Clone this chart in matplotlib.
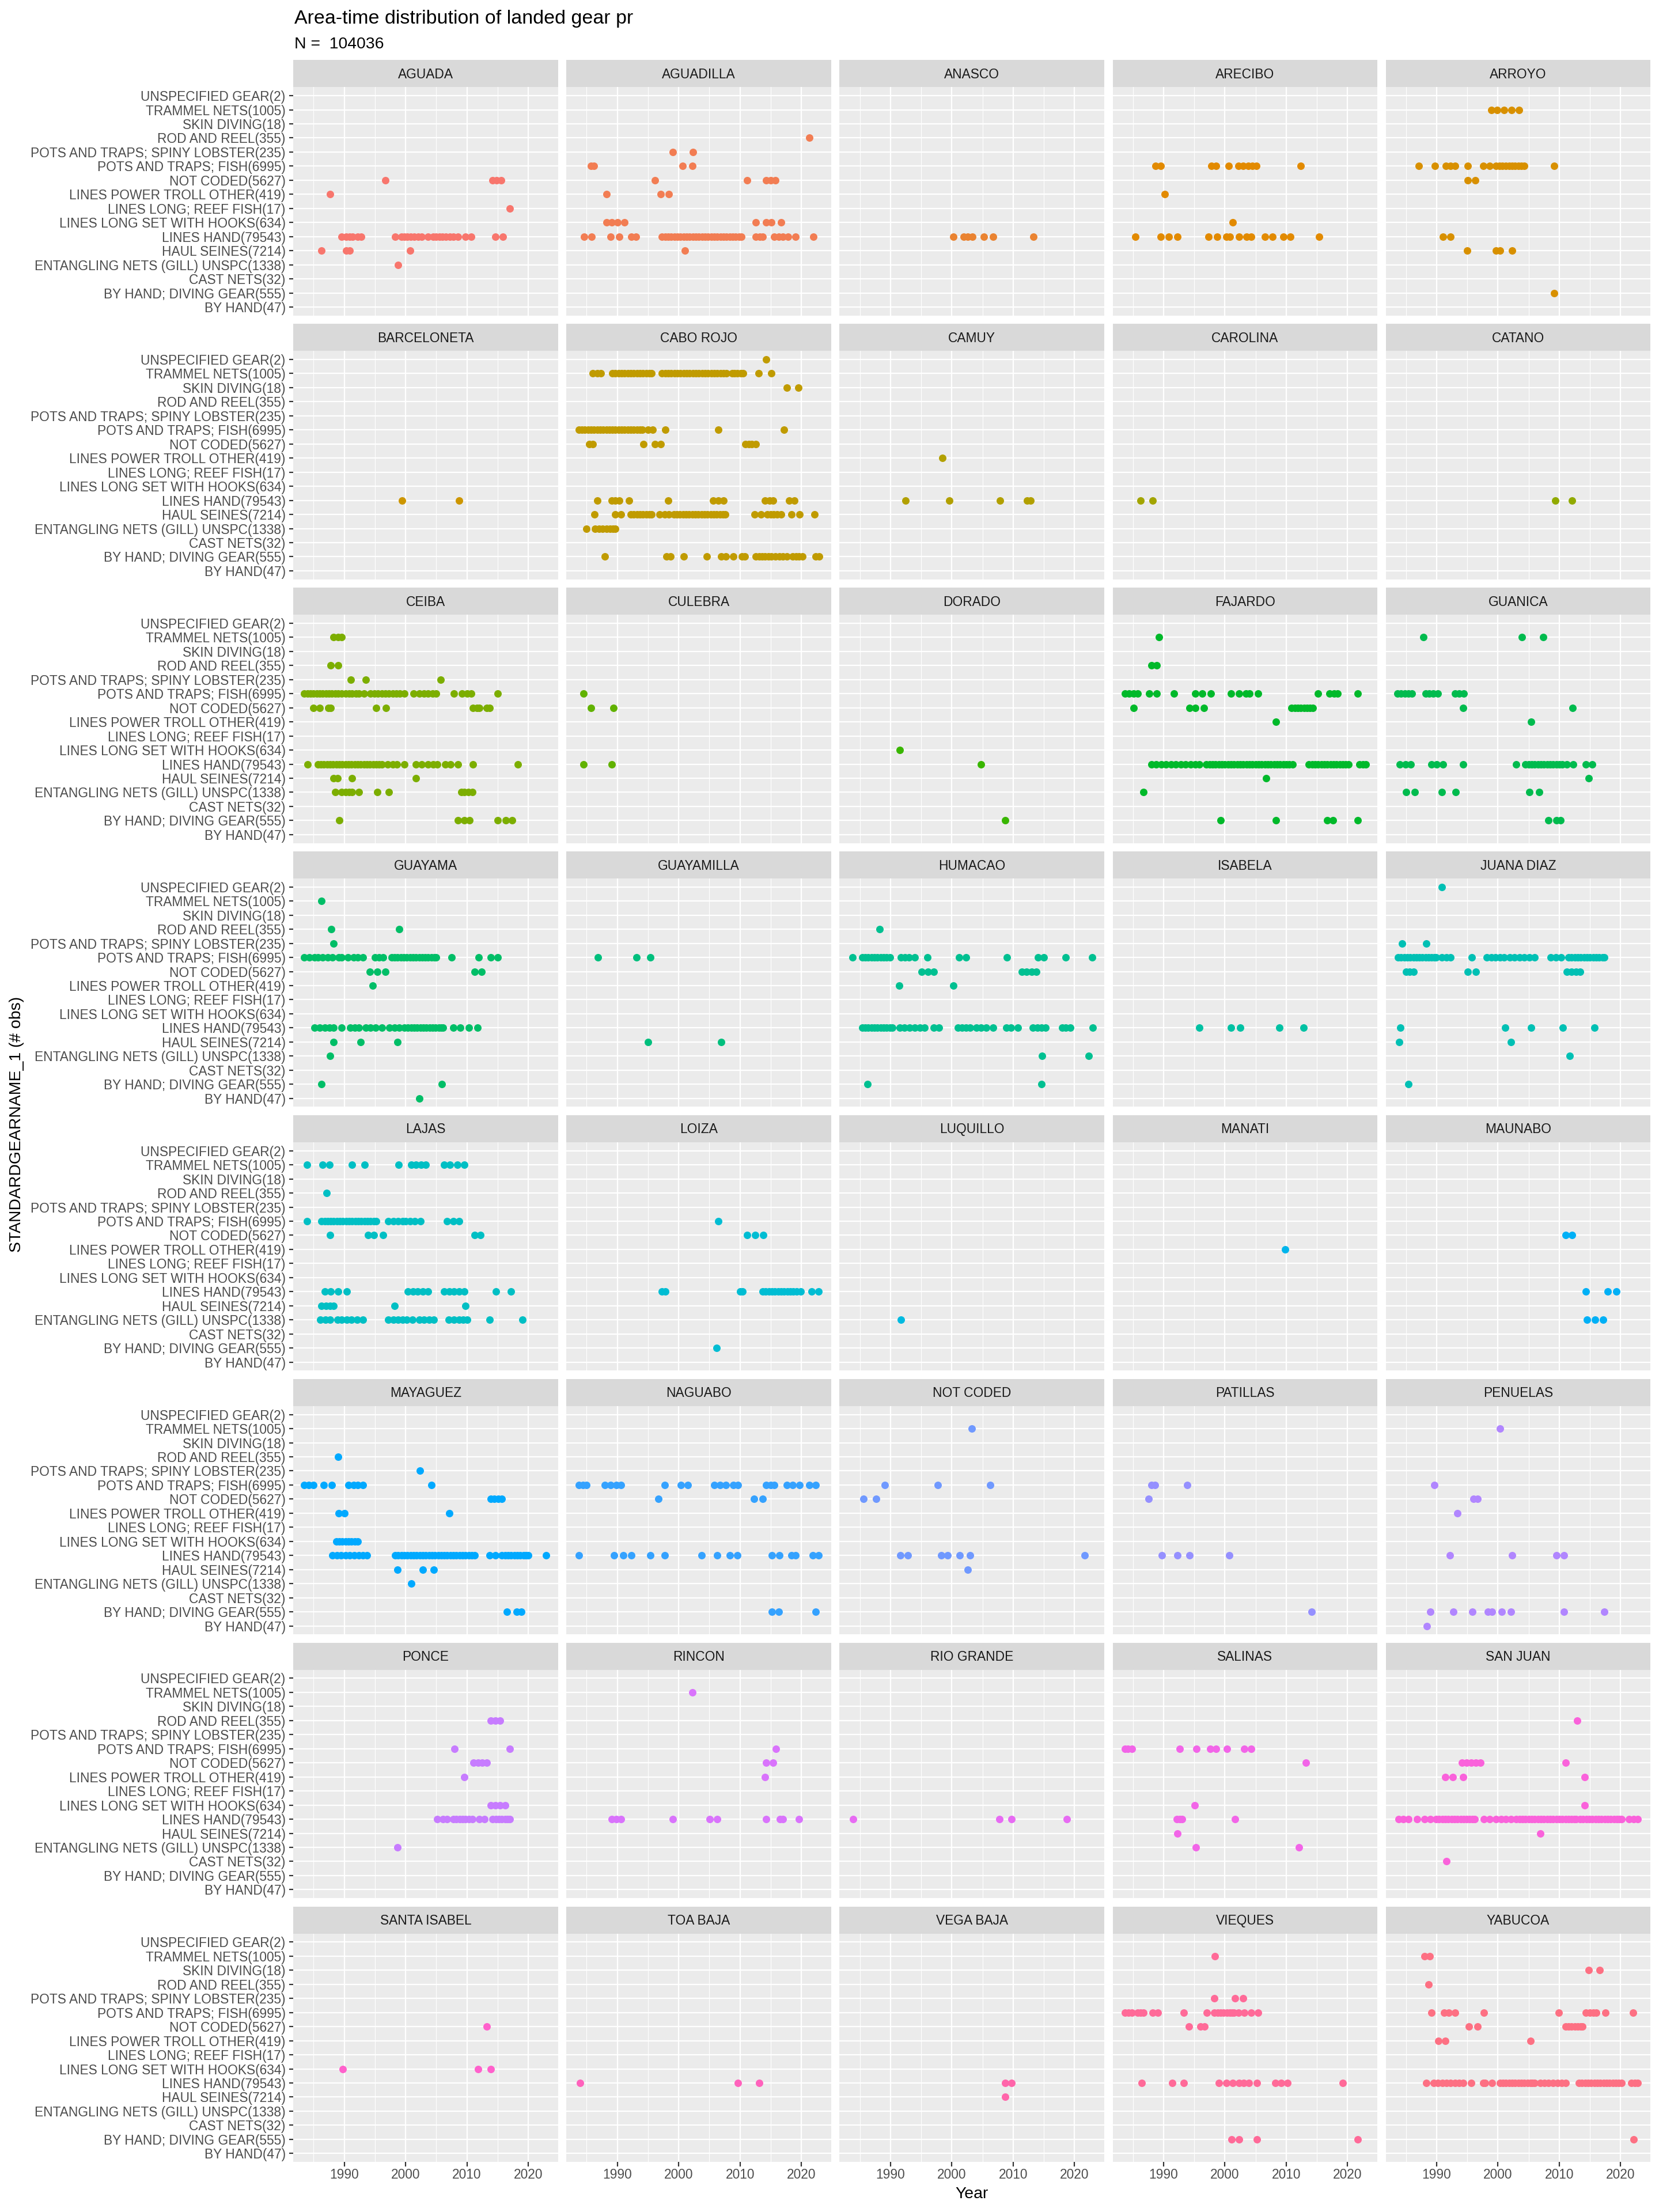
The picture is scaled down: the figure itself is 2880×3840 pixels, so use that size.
import numpy as np
import matplotlib
matplotlib.use("Agg")
import matplotlib.pyplot as plt

plt.rcParams['font.family'] = ['Liberation Sans', 'DejaVu Sans']

# ---------------- data ----------------
GEAR_CODES = ["BH", "BHD", "CN", "EN", "HS", "LH", "LLS", "LLR", "LPT", "NC",
              "PTF", "PSL", "ROD", "SKN", "TRM", "UNS"]
GEAR_LABELS = ["BY HAND(47)", "BY HAND; DIVING GEAR(555)", "CAST NETS(32)",
               "ENTANGLING NETS (GILL) UNSPC(1338)", "HAUL SEINES(7214)",
               "LINES HAND(79543)", "LINES LONG SET WITH HOOKS(634)",
               "LINES LONG; REEF FISH(17)", "LINES POWER TROLL OTHER(419)",
               "NOT CODED(5627)", "POTS AND TRAPS; FISH(6995)",
               "POTS AND TRAPS; SPINY LOBSTER(235)", "ROD AND REEL(355)",
               "SKIN DIVING(18)", "TRAMMEL NETS(1005)", "UNSPECIFIED GEAR(2)"]
X_TICKS = [1990, 2000, 2010, 2020]
X_MINOR = [1985, 1995, 2005, 2015]
TITLE = "Area-time distribution of landed gear pr"
SUBTITLE = "N =  104036"

AREAS = ["AGUADA", "AGUADILLA", "ANASCO", "ARECIBO", "ARROYO",
         "BARCELONETA", "CABO ROJO", "CAMUY", "CAROLINA", "CATANO",
         "CEIBA", "CULEBRA", "DORADO", "FAJARDO", "GUANICA",
         "GUAYAMA", "GUAYAMILLA", "HUMACAO", "ISABELA", "JUANA DIAZ",
         "LAJAS", "LOIZA", "LUQUILLO", "MANATI", "MAUNABO",
         "MAYAGUEZ", "NAGUABO", "NOT CODED", "PATILLAS", "PENUELAS",
         "PONCE", "RINCON", "RIO GRANDE", "SALINAS", "SAN JUAN",
         "SANTA ISABEL", "TOA BAJA", "VEGA BAJA", "VIEQUES", "YABUCOA"]

AGUADA = {
    "NC": [1996.7, 2014.2, 2014.8, 2015.6],
    "LPT": [1987.7],
    "LLR": [2017.0],
    "LH": [1989.6, 1990.3, 1990.9, 1991.4, 1992.2, 1992.8, 1998.3, 1999.3, 1999.8, 2000.3,
           2000.8, 2001.4, 2002.1, 2002.6, 2003.7, 2004.5, 2005.0, 2005.5, 2006.0, 2006.6,
           2007.2, 2007.8, 2008.5, 2009.8, 2010.7, 2014.6, 2015.9],
    "HS": [1986.3, 1990.3, 1990.9, 2000.7],
    "EN": [1998.8],
}
AGUADILLA = {
    "ROD": [2021.3],
    "PSL": [1999.0, 2002.3],
    "PTF": [1985.7, 1986.2, 2000.6, 2002.2],
    "NC": [1996.1, 2011.2, 2014.3, 2015.0, 2015.8],
    "LPT": [1988.2, 1997.1, 1998.4],
    "LLS": [1988.2, 1989.1, 1990.0, 1991.2, 2012.6, 2014.3, 2015.1, 2016.7],
    "LH": [1984.6, 1985.8, 1988.9, 1990.3, 1992.3, 1993.0, 1997.3, 1997.8, 1998.3, 1998.8,
           1999.3, 1999.8, 2000.3, 2000.8, 2001.3, 2001.8, 2002.3, 2002.8, 2003.3, 2003.8,
           2004.3, 2004.8, 2005.3, 2005.8, 2006.3, 2006.8, 2007.3, 2007.8, 2008.3, 2008.8,
           2009.3, 2009.8, 2010.2, 2012.6, 2013.2, 2013.7, 2015.6, 2016.3, 2017.0, 2017.8,
           2019.0, 2022.0],
    "HS": [2001.0],
}
ANASCO = {
    "LH": [2000.3, 2001.9, 2002.6, 2003.4, 2005.2, 2006.7, 2013.3],
}
ARECIBO = {
    "PTF": [1988.7, 1989.5, 1997.8, 1998.6, 2000.6, 2002.2, 2003.0, 2003.8, 2004.5, 2005.1, 2012.4],
    "LPT": [1990.2],
    "LLS": [2001.3],
    "LH": [1985.4, 1989.5, 1990.9, 1992.3, 1997.3, 1998.7, 2000.2, 2000.8, 2002.3, 2003.5,
           2004.3, 2006.5, 2007.8, 2009.5, 2010.7, 2015.4],
}
ARROYO = {
    "TRM": [1998.9, 1999.9, 2001.0, 2002.2, 2003.4],
    "PTF": [1987.1, 1989.7, 1991.5, 1992.3, 1993.0, 1995.1, 1997.6, 1998.6, 1999.7, 2000.2,
            2000.7, 2001.3, 2001.8, 2002.3, 2002.8, 2003.3, 2003.8, 2004.3, 2009.2],
    "NC": [1995.1, 1996.3],
    "LH": [1991.0, 1992.3],
    "HS": [1995.0, 1999.7, 2000.3, 2002.3],
    "BHD": [2009.2],
}
BARCELONETA = {
    "LH": [1999.4, 2008.7],
}
CABO_ROJO = {
    "UNS": [2014.3],
    "TRM": [1986.0, 1986.7, 1987.3, 1989.2, 1989.7, 1990.2, 1990.7, 1991.2, 1991.7, 1992.2,
            1992.7, 1993.2, 1993.7, 1994.2, 1994.7, 1995.2, 1995.6, 1997.3, 1997.8, 1998.3,
            1998.8, 1999.3, 1999.8, 2000.3, 2000.8, 2001.3, 2001.8, 2002.3, 2002.8, 2003.3,
            2003.8, 2004.3, 2004.8, 2005.3, 2005.8, 2006.3, 2006.8, 2007.3, 2007.8, 2008.7,
            2009.1, 2009.6, 2010.1, 2010.5, 2013.0, 2015.1],
    "SKN": [2017.6, 2019.5],
    "PTF": [1983.7, 1984.2, 1984.7, 1985.2, 1985.7, 1986.2, 1986.7, 1987.2, 1987.7, 1988.2,
            1988.7, 1989.2, 1989.7, 1990.2, 1990.7, 1991.2, 1991.7, 1992.2, 1992.7, 1993.2,
            1993.7, 1994.1, 1995.0, 1995.8, 1997.8, 2006.5, 2017.2],
    "NC": [1985.4, 1986.0, 1994.3, 1996.1, 1997.1, 2010.9, 2011.4, 2011.9, 2012.6],
    "LH": [1986.7, 1989.1, 1989.7, 1990.3, 1991.9, 1998.3, 2005.6, 2006.5, 2007.3, 2014.1,
           2014.8, 2015.4, 2018.0, 2018.9],
    "HS": [1986.3, 1989.7, 1990.6, 1992.2, 1992.7, 1993.2, 1993.7, 1994.2, 1994.7, 1995.2,
           1995.6, 1996.9, 1997.7, 1998.4, 1999.2, 1999.7, 2000.2, 2000.7, 2001.2, 2001.7,
           2002.2, 2002.7, 2003.2, 2003.7, 2004.2, 2004.7, 2005.2, 2005.7, 2006.2, 2006.7,
           2007.2, 2007.6, 2012.4, 2013.4, 2014.4, 2015.0, 2015.5, 2016.0, 2016.7, 2018.4,
           2019.7, 2022.1],
    "EN": [1985.0, 1986.4, 1987.0, 1987.6, 1988.2, 1988.8, 1989.3, 1989.7],
    "BHD": [1988.0, 1998.0, 1998.7, 2000.8, 2004.6, 2006.9, 2007.7, 2008.9, 2010.3, 2010.8,
            2012.6, 2013.1, 2013.6, 2014.1, 2014.6, 2015.1, 2015.8, 2016.4, 2017.0, 2017.6,
            2018.6, 2019.1, 2019.6, 2020.2, 2022.3, 2022.9],
}
CAMUY = {
    "LPT": [1998.5],
    "LH": [1992.5, 1999.6, 2007.9, 2012.3, 2012.8],
}
CAROLINA = {
    "LH": [1986.3, 1988.2],
}
CATANO = {
    "LH": [2009.3, 2012.1],
}
CEIBA = {
    "TRM": [1988.3, 1989.0, 1989.6],
    "ROD": [1987.8, 1989.0],
    "PSL": [1991.1, 1993.5, 2005.7],
    "PTF": [1983.5, 1984.0, 1984.5, 1985.0, 1985.5, 1986.0, 1986.5, 1987.0, 1987.5, 1988.0,
            1988.5, 1989.0, 1989.6, 1990.2, 1990.8, 1991.3, 1991.9, 1992.4, 1993.2, 1994.3,
            1994.9, 1995.5, 1996.1, 1996.7, 1997.3, 1997.9, 1998.5, 1999.1, 1999.8, 2001.3,
            2002.2, 2003.0, 2003.7, 2004.4, 2005.0, 2007.9, 2009.2, 2010.0, 2010.7, 2015.0],
    "NC": [1985.0, 1986.0, 1987.4, 1987.8, 1995.2, 1996.8, 2011.0, 2011.6, 2012.0, 2013.2, 2013.7],
    "LH": [1984.0, 1985.7, 1986.2, 1986.7, 1987.2, 1987.7, 1988.2, 1988.7, 1989.2, 1989.7,
           1990.2, 1990.7, 1991.2, 1991.7, 1992.2, 1992.7, 1993.2, 1993.7, 1994.2, 1994.7,
           1995.2, 1995.7, 1996.1, 1997.1, 1997.9, 1998.6, 1999.8, 2001.7, 2002.6, 2003.7,
           2004.5, 2005.2, 2006.5, 2007.3, 2008.5, 2011.0, 2018.3],
    "HS": [1988.3, 1988.9, 1991.3, 2001.7],
    "EN": [1988.5, 1989.6, 1990.2, 1990.8, 1991.3, 1992.4, 1995.4, 1997.3, 2009.1, 2009.6,
           2010.2, 2010.9],
    "BHD": [1989.2, 2008.5, 2009.6, 2010.4, 2015.0, 2016.3, 2017.4],
}
CULEBRA = {
    "PTF": [1984.5],
    "NC": [1985.7, 1989.4],
    "LH": [1984.5, 1989.1],
}
DORADO = {
    "LLS": [1991.5],
    "LH": [2004.8],
    "BHD": [2008.7],
}
FAJARDO = {
    "TRM": [1989.3],
    "ROD": [1988.0, 1988.9],
    "PTF": [1983.7, 1984.4, 1985.1, 1985.8, 1987.7, 1988.9, 1991.7, 1995.2, 1996.3, 1997.7,
            2001.0, 2002.3, 2003.4, 2004.0, 2005.4, 2015.2, 2017.1, 2017.8, 2018.4, 2021.7],
    "NC": [1985.1, 1994.2, 1995.2, 1996.6, 2010.9, 2011.4, 2011.9, 2012.4, 2012.9, 2013.4,
           2013.9, 2014.3],
    "LPT": [2008.3],
    "LH": [1988.0, 1988.8, 1989.6, 1990.4, 1991.2, 1992.0, 1992.8, 1993.6, 1994.4, 1995.2,
           1995.8, 1997.0, 1997.5, 1998.0, 1998.5, 1999.0, 1999.5, 2000.0, 2000.5, 2001.0,
           2001.5, 2002.0, 2002.5, 2003.0, 2003.5, 2004.0, 2004.5, 2005.0, 2005.5, 2006.0,
           2006.5, 2007.0, 2007.5, 2008.0, 2008.5, 2009.0, 2009.5, 2010.0, 2010.5, 2011.0,
           2013.7, 2014.2, 2014.7, 2015.2, 2015.7, 2016.2, 2016.7, 2017.2, 2017.7, 2018.2,
           2018.7, 2019.2, 2019.7, 2020.2, 2021.9, 2022.5, 2023.0],
    "HS": [2006.7],
    "EN": [1986.7],
    "BHD": [1999.3, 2008.3, 2016.7, 2017.6, 2021.7],
}
GUANICA = {
    "TRM": [1987.8, 2003.9, 2007.4],
    "PTF": [1983.6, 1984.2, 1984.8, 1985.4, 1986.0, 1988.2, 1988.8, 1989.4, 1990.2, 1993.0,
            1993.7, 1994.4],
    "NC": [1994.3, 2012.2],
    "LPT": [2005.4],
    "LH": [1984.0, 1984.9, 1985.8, 1989.2, 1990.0, 1991.0, 1994.3, 2003.0, 2004.5, 2005.0,
           2005.5, 2006.0, 2006.5, 2007.0, 2007.5, 2008.0, 2008.5, 2009.0, 2009.5, 2010.0,
           2010.5, 2011.2, 2012.3, 2014.3, 2015.4],
    "HS": [2014.8],
    "EN": [1985.0, 1986.4, 1990.8, 1993.1, 2005.1, 2006.7],
    "BHD": [2008.2, 2009.5, 2010.2],
}
GUAYAMA = {
    "TRM": [1986.3],
    "ROD": [1987.9, 1999.0],
    "PSL": [1988.3],
    "PTF": [1983.5, 1984.3, 1985.2, 1985.7, 1986.5, 1987.3, 1988.1, 1989.1, 1989.6, 1990.6,
            1991.5, 1992.2, 1993.0, 1995.0, 1995.7, 1996.3, 1997.7, 1998.2, 1998.7, 1999.2,
            1999.7, 2000.2, 2000.7, 2001.2, 2001.7, 2002.2, 2002.7, 2003.2, 2003.7, 2004.2,
            2004.7, 2005.0, 2007.5, 2011.9, 2013.9, 2015.0],
    "NC": [1994.2, 1995.4, 1996.7, 2011.3, 2012.4],
    "LPT": [1994.6],
    "LH": [1985.2, 1986.0, 1986.8, 1987.6, 1988.3, 1989.6, 1991.0, 1991.7, 1992.4, 1993.5,
           1994.3, 1995.1, 1996.1, 1997.4, 1998.2, 1999.0, 1999.8, 2000.4, 2000.9, 2001.4,
           2001.9, 2002.4, 2002.9, 2003.4, 2003.9, 2004.4, 2004.9, 2005.4, 2005.8, 2006.1,
           2007.8, 2008.9, 2010.3, 2011.7],
    "HS": [1988.3, 1992.7, 1998.7],
    "EN": [1987.7],
    "BHD": [1986.3, 2005.9],
    "BH": [2002.2],
}
GUAYAMILLA = {
    "PTF": [1986.8, 1993.1, 1995.4],
    "HS": [1995.0, 2006.9],
}
HUMACAO = {
    "ROD": [1988.2],
    "PTF": [1983.8, 1985.4, 1985.9, 1986.4, 1986.9, 1987.4, 1987.9, 1988.4, 1988.9, 1989.4,
            1989.9, 1991.7, 1992.4, 1993.0, 1994.0, 1996.0, 2001.2, 2002.3, 2009.0, 2014.1,
            2015.0, 2018.6, 2022.9],
    "NC": [1995.1, 1996.1, 1997.1, 2011.4, 2012.2, 2013.0, 2013.8],
    "LPT": [1991.4, 2000.3],
    "LH": [1985.4, 1985.9, 1986.4, 1986.9, 1987.4, 1987.9, 1988.4, 1988.9, 1989.4, 1989.9,
           1990.3, 1991.5, 1992.3, 1993.1, 1994.0, 1994.8, 1995.6, 1997.1, 1997.9, 2001.0,
           2001.7, 2002.3, 2003.0, 2004.0, 2004.8, 2005.6, 2006.7, 2008.9, 2009.6, 2010.8,
           2013.2, 2014.0, 2014.6, 2015.3, 2018.0, 2018.6, 2019.3, 2023.0],
    "EN": [2014.7, 2022.3],
    "BHD": [1986.3, 2014.6],
}
ISABELA = {
    "LH": [1995.8, 2001.0, 2002.5, 2008.9, 2012.8],
}
JUANA_DIAZ = {
    "UNS": [1990.8],
    "PSL": [1984.4, 1988.3],
    "PTF": [1983.7, 1984.2, 1984.7, 1985.2, 1985.7, 1986.2, 1986.7, 1987.2, 1987.7, 1988.2,
            1988.7, 1989.2, 1989.6, 1989.9, 1990.8, 1991.6, 1992.3, 1995.7, 1998.2, 1998.9,
            1999.6, 2000.3, 2001.0, 2001.9, 2002.7, 2003.5, 2004.3, 2005.1, 2006.0, 2008.6,
            2009.4, 2010.3, 2011.5, 2012.0, 2012.5, 2013.0, 2013.5, 2014.0, 2014.5, 2015.0,
            2015.5, 2016.0, 2016.5, 2017.0, 2017.3],
    "NC": [1985.0, 1985.6, 1986.2, 1995.1, 1996.4, 2011.2, 2012.0, 2012.7, 2013.4],
    "LH": [1984.1, 2001.2, 2005.4, 2010.6, 2015.7],
    "HS": [1983.9, 2002.1],
    "EN": [2011.7],
    "BHD": [1985.4],
}
LAJAS = {
    "TRM": [1983.9, 1986.5, 1987.6, 1991.3, 1993.3, 1998.9, 2000.9, 2001.7, 2002.5, 2003.3,
            2006.3, 2007.2, 2008.4, 2009.6],
    "ROD": [1987.1],
    "PTF": [1983.9, 1986.3, 1986.8, 1987.3, 1987.8, 1988.3, 1988.8, 1989.3, 1989.8, 1990.3,
            1990.8, 1991.3, 1991.8, 1992.3, 1992.8, 1993.3, 1993.8, 1994.3, 1994.8, 1995.2,
            1997.2, 1998.0, 1998.8, 1999.5, 2000.0, 2000.7, 2001.5, 2002.4, 2006.8, 2007.8,
            2008.7],
    "NC": [1987.7, 1993.9, 1994.8, 1996.3, 2011.3, 2012.2],
    "LH": [1986.8, 1987.8, 1989.0, 1990.4, 2000.4, 2001.2, 2002.0, 2002.8, 2003.7, 2006.3,
           2007.1, 2007.9, 2008.7, 2009.6, 2014.7, 2017.2],
    "HS": [1986.3, 1987.0, 1987.7, 1988.3, 1998.2, 2009.8],
    "EN": [1986.1, 1986.9, 1987.7, 1988.9, 1989.6, 1990.4, 1991.2, 1992.1, 1993.0, 1997.2,
           1998.0, 1998.8, 1999.5, 2000.2, 2001.1, 2002.2, 2003.0, 2003.8, 2004.6, 2007.0,
           2007.9, 2008.7, 2009.4, 2010.0, 2013.7, 2019.1],
}
LOIZA = {
    "PTF": [2006.5],
    "NC": [2011.2, 2012.5, 2013.8],
    "LH": [1997.3, 1997.8, 2010.0, 2010.4, 2013.7, 2014.2, 2014.7, 2015.2, 2015.7, 2016.2,
           2016.7, 2017.2, 2017.7, 2018.2, 2018.7, 2019.2, 2019.9, 2021.7, 2022.8],
    "BHD": [2006.2],
}
LUQUILLO = {
    "EN": [1991.7],
}
MANATI = {
    "LPT": [2009.8],
}
MAUNABO = {
    "NC": [2011.0, 2012.1],
    "LH": [2014.3, 2017.9, 2019.3],
    "EN": [2014.5, 2015.8, 2017.1],
}
MAYAGUEZ = {
    "ROD": [1989.0],
    "PSL": [2002.3],
    "PTF": [1983.5, 1984.2, 1985.0, 1986.7, 1988.0, 1990.7, 1991.5, 1992.2, 1993.0, 2004.2],
    "NC": [2013.9, 2014.5, 2015.1, 2015.7],
    "LPT": [1989.1, 1990.0, 2007.1],
    "LLS": [1988.7, 1989.2, 1989.7, 1990.2, 1990.7, 1991.2, 1991.7, 1992.2],
    "LH": [1988.1, 1988.8, 1989.5, 1990.2, 1990.9, 1991.6, 1992.4, 1993.0, 1993.7, 1998.3,
           1998.8, 1999.3, 1999.8, 2000.3, 2000.8, 2001.3, 2001.8, 2002.3, 2002.8, 2003.3,
           2003.8, 2004.3, 2004.8, 2005.3, 2005.8, 2006.3, 2006.8, 2007.3, 2007.8, 2008.3,
           2008.8, 2009.3, 2009.8, 2010.3, 2010.8, 2011.3, 2013.7, 2014.6, 2015.7, 2016.2,
           2016.7, 2017.2, 2017.7, 2018.2, 2018.7, 2019.2, 2019.6, 2020.0, 2022.9],
    "HS": [1998.7, 2002.8, 2004.6],
    "EN": [2000.9],
    "BHD": [2016.5, 2018.1, 2018.9],
}
NAGUABO = {
    "PTF": [1983.7, 1984.4, 1985.0, 1988.0, 1988.9, 1989.8, 1990.6, 1997.7, 2000.4, 2001.5,
            2005.8, 2006.7, 2007.7, 2008.9, 2009.7, 2014.3, 2015.0, 2015.6, 2017.6, 2018.6,
            2019.7, 2021.3, 2022.3],
    "NC": [1996.7, 2012.3, 2013.7],
    "LH": [1983.7, 1989.5, 1991.0, 1992.3, 1995.4, 1997.7, 2003.7, 2006.3, 2008.3, 2009.6,
           2015.2, 2016.4, 2018.4, 2019.0, 2021.9, 2022.8],
    "BHD": [2015.2, 2016.3, 2022.3],
}
NOT_CODED = {
    "TRM": [2003.3],
    "PTF": [1989.1, 1997.7, 2006.3],
    "NC": [1985.6, 1987.7],
    "LH": [1991.6, 1992.8, 1998.3, 1999.3, 2001.3, 2003.0, 2021.7],
    "HS": [2002.6],
}
PATILLAS = {
    "PTF": [1988.0, 1988.6, 1993.9],
    "NC": [1987.6],
    "LH": [1989.7, 1992.3, 1994.2, 2000.7],
    "BHD": [2014.1],
}
PENUELAS = {
    "TRM": [2000.3],
    "PTF": [1989.6],
    "NC": [1996.0, 1996.7],
    "LPT": [1993.4],
    "LH": [1992.2, 2002.3, 2009.5, 2010.8],
    "BHD": [1989.0, 1992.7, 1995.8, 1998.4, 1999.0, 2000.6, 2002.1, 2010.8, 2017.3],
    "BH": [1988.4],
}
PONCE = {
    "ROD": [2013.9, 2014.6, 2015.4],
    "PTF": [2008.0, 2017.0],
    "NC": [2011.1, 2011.8, 2012.5, 2013.2],
    "LPT": [2009.6],
    "LLS": [2013.9, 2014.6, 2015.4, 2016.2],
    "LH": [2005.2, 2006.1, 2006.8, 2007.8, 2008.3, 2008.8, 2009.3, 2009.8, 2010.3, 2010.9,
           2012.0, 2012.9, 2014.2, 2014.7, 2015.2, 2015.7, 2016.2, 2016.6, 2017.0],
    "EN": [1998.7],
}
RINCON = {
    "TRM": [2002.2],
    "PTF": [2015.9],
    "NC": [2014.3, 2015.4],
    "LPT": [2014.1],
    "LH": [1989.1, 1989.8, 1990.6, 1999.0, 2005.1, 2006.3, 2014.3, 2016.5, 2017.0, 2019.6],
}
RIO_GRANDE = {
    "LH": [1983.9, 2007.8, 2009.7, 2018.8],
}
SALINAS = {
    "PTF": [1983.7, 1984.2, 1984.8, 1992.6, 1995.4, 1997.6, 1998.6, 2000.3, 2003.2, 2004.3],
    "NC": [2013.2],
    "LLS": [1995.1],
    "LH": [1992.2, 1992.6, 1993.0, 2001.7],
    "HS": [1992.3],
    "EN": [1995.3, 2012.1],
}
SAN_JUAN = {
    "ROD": [2012.9],
    "NC": [1994.1, 1994.9, 1995.6, 1996.4, 1997.1, 2011.0],
    "LPT": [1991.4, 1992.6, 1994.3, 2014.1],
    "LLS": [2014.1],
    "LH": [1983.8, 1984.6, 1985.4, 1986.8, 1988.0, 1989.0, 1989.9, 1990.4, 1990.9, 1991.4,
           1991.9, 1992.4, 1992.9, 1993.4, 1993.9, 1994.4, 1994.9, 1995.4, 1995.8, 1996.2,
           1997.7, 1998.6, 1999.7, 2000.5, 2001.3, 2002.1, 2003.0, 2003.5, 2004.0, 2004.5,
           2005.0, 2005.5, 2006.0, 2006.5, 2007.0, 2007.5, 2008.0, 2008.5, 2009.0, 2009.5,
           2010.0, 2010.5, 2011.0, 2011.5, 2012.0, 2012.4, 2012.7, 2013.4, 2013.9, 2014.4,
           2014.9, 2015.4, 2015.9, 2016.4, 2016.9, 2017.4, 2017.9, 2018.4, 2018.9, 2019.4,
           2019.8, 2020.1, 2021.4, 2022.1, 2022.8],
    "HS": [2006.9],
    "CN": [1991.6],
}
SANTA_ISABEL = {
    "NC": [2013.2],
    "LLS": [1989.8, 2011.8, 2013.9],
}
TOA_BAJA = {
    "LH": [1983.9, 2009.7, 2013.1],
}
VEGA_BAJA = {
    "LH": [2008.7, 2009.7],
    "HS": [2008.7],
}
VIEQUES = {
    "TRM": [1998.4],
    "PSL": [1998.3, 2001.7, 2003.0],
    "PTF": [1983.7, 1984.3, 1984.8, 1985.8, 1986.3, 1986.7, 1988.2, 1989.1, 1993.3, 1997.1,
            1998.3, 1998.8, 1999.3, 1999.8, 2000.3, 2000.8, 2001.2, 2001.5, 2002.2, 2003.2,
            2004.3, 2005.4],
    "NC": [1994.1, 1996.0, 1996.7],
    "LH": [1986.4, 1991.4, 1993.3, 1999.0, 2000.2, 2001.3, 2002.3, 2003.1, 2003.9, 2005.2,
           2008.2, 2009.2, 2010.2, 2019.2],
    "BHD": [2001.1, 2002.3, 2005.2, 2021.7],
}
YABUCOA = {
    "TRM": [1988.0, 1988.9],
    "SKN": [2014.8, 2016.6],
    "ROD": [1988.7],
    "PTF": [1989.2, 1991.2, 1992.0, 1993.0, 1997.7, 2009.9, 2014.3, 2015.0, 2015.5, 2016.0,
            2017.5, 2022.0],
    "NC": [1995.3, 1996.7, 2011.0, 2011.5, 2012.0, 2012.5, 2013.0, 2013.5, 2013.8],
    "LPT": [1990.3, 1991.4, 2005.3],
    "LH": [1988.3, 1989.5, 1990.2, 1990.9, 1991.6, 1992.3, 1993.0, 1993.7, 1994.3, 1995.6,
           1997.6, 1997.9, 1999.0, 2000.3, 2000.8, 2001.3, 2001.8, 2002.3, 2002.8, 2003.3,
           2003.8, 2004.3, 2004.8, 2005.3, 2005.6, 2006.0, 2006.9, 2007.6, 2008.2, 2009.0,
           2009.7, 2010.4, 2011.0, 2013.2, 2013.7, 2014.2, 2014.7, 2015.2, 2015.7, 2016.2,
           2016.7, 2017.2, 2017.7, 2018.2, 2018.7, 2019.2, 2019.7, 2020.1, 2021.7, 2022.3,
           2022.8],
    "BHD": [2022.1],
}

AREA_DATA = [AGUADA, AGUADILLA, ANASCO, ARECIBO, ARROYO,
             BARCELONETA, CABO_ROJO, CAMUY, CAROLINA, CATANO,
             CEIBA, CULEBRA, DORADO, FAJARDO, GUANICA,
             GUAYAMA, GUAYAMILLA, HUMACAO, ISABELA, JUANA_DIAZ,
             LAJAS, LOIZA, LUQUILLO, MANATI, MAUNABO,
             MAYAGUEZ, NAGUABO, NOT_CODED, PATILLAS, PENUELAS,
             PONCE, RINCON, RIO_GRANDE, SALINAS, SAN_JUAN,
             SANTA_ISABEL, TOA_BAJA, VEGA_BAJA, VIEQUES, YABUCOA]


# ---------------- colours (ggplot2 hue palette) ----------------
def hcl_hex(h, c=100.0, l=65.0):
    hr = np.deg2rad(h)
    U = c * np.cos(hr)
    V = c * np.sin(hr)
    Xn, Yn, Zn = 95.047, 100.0, 108.883
    Y = Yn * (((l + 16.0) / 116.0) ** 3 if l > 7.999592 else l / 903.3)
    t = Xn + Yn + Zn
    x = Xn / t
    y = Yn / t
    uN = 2.0 * x / (6.0 * y - x + 1.5)
    vN = 4.5 * y / (6.0 * y - x + 1.5)
    u = U / (13.0 * l) + uN
    v = V / (13.0 * l) + vN
    X = 9.0 * Y * u / (4.0 * v)
    Z = -X / 3.0 - 5.0 * Y + 3.0 * Y / v
    X, Y, Z = X / 100.0, Y / 100.0, Z / 100.0
    rgb = [3.240479 * X - 1.537150 * Y - 0.498535 * Z,
           -0.969256 * X + 1.875992 * Y + 0.041556 * Z,
           0.055648 * X - 0.204043 * Y + 1.057311 * Z]
    out = []
    for ch in rgb:
        ch = 1.055 * ch ** (1 / 2.4) - 0.055 if ch > 0.0031308 else 12.92 * ch
        out.append(min(1.0, max(0.0, ch)))
    return tuple(out)


n_areas = len(AREAS)
COLORS = [hcl_hex(15 + 360.0 * k / n_areas) for k in range(n_areas)]

# ---------------- layout (pixels) ----------------
W, H = 2880, 3840
fig = plt.figure(figsize=(W / 72, H / 72), dpi=72)
fig.patch.set_facecolor("white")

COL_LEFT0, COL_PITCH, PANEL_W = 509.2, 474.1, 459.5
ROW_TOP0, ROW_PITCH, STRIP_H, PANEL_H = 104.4, 457.9, 47.0, 396.3
XLIM = (1981.7, 2024.85)
TXT = 22.7


def rect(x, y, w, h):
    return [x / W, 1 - (y + h) / H, w / W, h / H]


NCOL, NROW = 5, 8
for k, (name, data) in enumerate(zip(AREAS, AREA_DATA)):
    i, j = divmod(k, NCOL)
    x0 = COL_LEFT0 + j * COL_PITCH
    ys = ROW_TOP0 + i * ROW_PITCH

    sax = fig.add_axes(rect(x0, ys, PANEL_W, STRIP_H))
    sax.set_facecolor("#D9D9D9")
    sax.set_xticks([])
    sax.set_yticks([])
    for s in sax.spines.values():
        s.set_visible(False)
    sax.text(0.5, 0.47, name, ha="center", va="center", fontsize=TXT,
             color="#1A1A1A", transform=sax.transAxes)

    ax = fig.add_axes(rect(x0, ys + STRIP_H, PANEL_W, PANEL_H))
    ax.set_facecolor("#EBEBEB")
    ax.set_xlim(*XLIM)
    ax.set_ylim(0.4, len(GEAR_CODES) + 0.6)
    for code, yrs in data.items():
        yv = GEAR_CODES.index(code) + 1
        ax.scatter(yrs, np.full(len(yrs), yv), s=169, color=COLORS[k],
                   linewidths=0, zorder=3)
    ax.set_xticks(X_TICKS)
    ax.set_xticks(X_MINOR, minor=True)
    ax.set_yticks(range(1, len(GEAR_CODES) + 1))
    ax.set_axisbelow(True)
    ax.grid(which="major", color="white", linewidth=2.2)
    ax.grid(which="minor", axis="x", color="white", linewidth=1.1)
    for s in ax.spines.values():
        s.set_visible(False)
    ax.tick_params(which="minor", length=0)
    if j == 0:
        ax.set_yticklabels(GEAR_LABELS)
        ax.tick_params(axis="y", length=7.5, width=2.2, color="#333333",
                       pad=6, labelsize=TXT, labelcolor="#4D4D4D")
    else:
        ax.tick_params(axis="y", length=0, labelleft=False)
    if i == NROW - 1:
        ax.set_xticklabels([str(t) for t in X_TICKS])
        ax.tick_params(axis="x", length=7.5, width=2.2, color="#333333",
                       pad=4, labelsize=TXT, labelcolor="#4D4D4D")
    else:
        ax.tick_params(axis="x", length=0, labelbottom=False)

# titles
fig.text(511 / W, 1 - 41 / H, TITLE, ha="left", va="baseline", fontsize=34, color="black")
fig.text(511 / W, 1 - 84.5 / H, SUBTITLE, ha="left", va="baseline", fontsize=28.4, color="black")
fig.text(28.7 / W, 1 - 1952 / H, "STANDARDGEARNAME_1 (# obs)", rotation=90,
         ha="center", va="center", fontsize=28.4, color="black")
fig.text(1687 / W, 1 - 3809 / H, "Year", ha="center", va="center", fontsize=28.4, color="black")

fig.savefig("out.png", dpi=72, facecolor="white")
